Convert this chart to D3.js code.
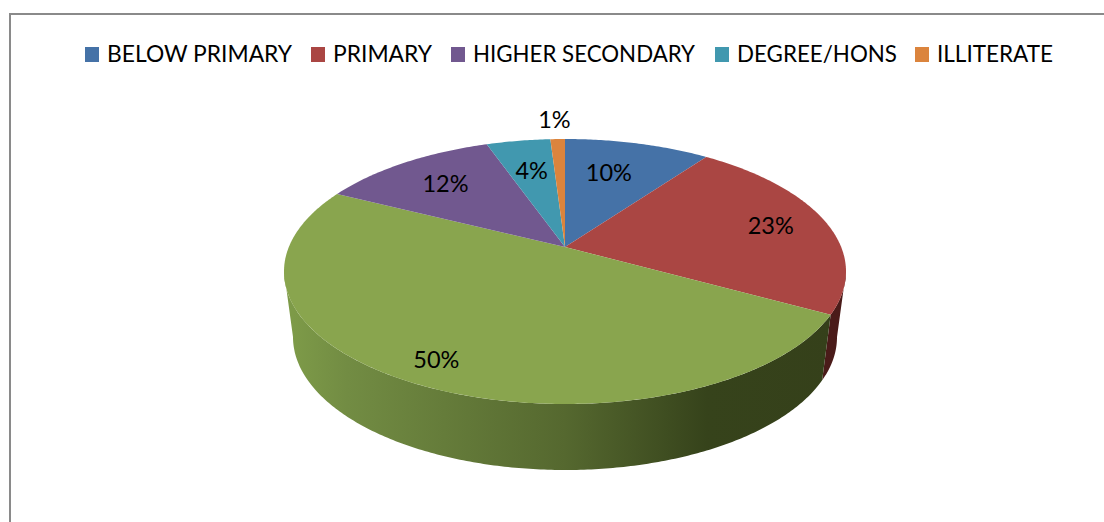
<!DOCTYPE html>
<html><head><meta charset="utf-8">
<script src="https://cdnjs.cloudflare.com/ajax/libs/d3/7.8.5/d3.min.js"></script>
<style>html,body{margin:0;padding:0;background:#fff}svg{display:block}text{font-family:Lato,"Open Sans",sans-serif;fill:#000}</style>
</head><body><svg id="c" width="1104" height="522"></svg>
<script>
const categories = ["BELOW PRIMARY","PRIMARY","","HIGHER SECONDARY","DEGREE/HONS","ILLITERATE"];
const values = [10,23,49.4,12.2,4.4,1];
const percentLabels = ["10%","23%","50%","12%","4%","1%"];
const colors = ["#4572A7","#AA4643","#89A54E","#71588F","#4198AF","#DB843D"];
const wallColors = ["#2b4263","#4a1b19","#89A54E","#41325a","#24586a","#82491f"];
const labelRadius = [0.68,0.78,0.86,0.72,0.68,1.216];
const labelNudgeX = [-8,2,0,0,0,-2];
const wallStops = [[0,"#7d9a48"],[0.1,"#728c43"],[0.5,"#55682f"],[0.76,"#36431b"],[1,"#35401a"]];
const legendLeft = [85,311,451,715,915];
const legendTextWidth = [185,99,222,160,116];

const svg = d3.select("#c");
const W=1104,H=522;
svg.append("path").attr("d",`M${W} 14H10V${H}`).attr("fill","none").attr("stroke","#8a8a8a").attr("stroke-width",2);

const k = 0.185;            // perspective shift of the pie centre
const topX = d3.scaleLinear([-1,1],[284,846]);
const topY = d3.scaleLinear([-1,1],[139,404]);
const botX = d3.scaleLinear([-1,1],[293,837]);
const botY = d3.scaleLinear([-1,1],[204,470]);
function proj(theta,r,sx,sy){
  const x=r*Math.sin(theta), v=-r*Math.cos(theta), d=1-k*v;
  return [sx((x*Math.sqrt(1-k*k))/d), sy((v-k)/d)];
}
const pie = d3.pie().sort(null).value(d=>d).startAngle(0).endAngle(2*Math.PI);
const arcs = pie(values);
const line = d3.line();
const angles=(a,b)=>{const n=Math.max(2,Math.ceil((b-a)*90));return d3.range(n+1).map(i=>a+(b-a)*i/n)};

const defs = svg.append("defs");
const grad = defs.append("linearGradient").attr("id","wall").attr("gradientUnits","userSpaceOnUse")
  .attr("x1",botX(-1)).attr("x2",botX(1)).attr("y1",0).attr("y2",0);
grad.selectAll("stop").data(wallStops).join("stop").attr("offset",d=>d[0]).attr("stop-color",d=>d[1]);

// side walls: the part of the rim between the two silhouette points of the ellipse
const front0=Math.acos(-k), front1=2*Math.PI-front0;
svg.append("g").selectAll("path").data(arcs.filter(a=>a.endAngle>front0&&a.startAngle<front1)).join("path")
  .attr("d",a=>{
    const s=Math.max(a.startAngle,front0), e=Math.min(a.endAngle,front1), t=angles(s,e);
    return line([...t.map(q=>proj(q,1,topX,topY)),...t.slice().reverse().map(q=>proj(q,1,botX,botY))])+"Z";
  })
  .attr("fill",a=>a.index===2?"url(#wall)":wallColors[a.index]);

// top face
svg.append("g").selectAll("path").data(arcs).join("path")
  .attr("d",a=>line([proj(0,0,topX,topY),...angles(a.startAngle,a.endAngle).map(q=>proj(q,1,topX,topY))])+"Z")
  .attr("fill",a=>colors[a.index]);

// data labels
svg.append("g").selectAll("text").data(arcs).join("text")
  .attr("x",a=>proj((a.startAngle+a.endAngle)/2,labelRadius[a.index],topX,topY)[0]+labelNudgeX[a.index])
  .attr("y",a=>proj((a.startAngle+a.endAngle)/2,labelRadius[a.index],topX,topY)[1]+8)
  .attr("text-anchor","middle").attr("font-size",23.5).text(a=>percentLabels[a.index]);

// legend
const legendEntries = categories.map((c,i)=>({c,i})).filter(d=>d.c);
const lg=svg.append("g");
legendEntries.forEach((d,j)=>{
  lg.append("rect").attr("x",legendLeft[j]).attr("y",47).attr("width",14).attr("height",15).attr("fill",colors[d.i]);
  lg.append("text").attr("x",legendLeft[j]+22).attr("y",62).attr("font-size",23)
    .attr("textLength",legendTextWidth[j]).attr("lengthAdjust","spacingAndGlyphs").text(d.c);
});
</script></body></html>
